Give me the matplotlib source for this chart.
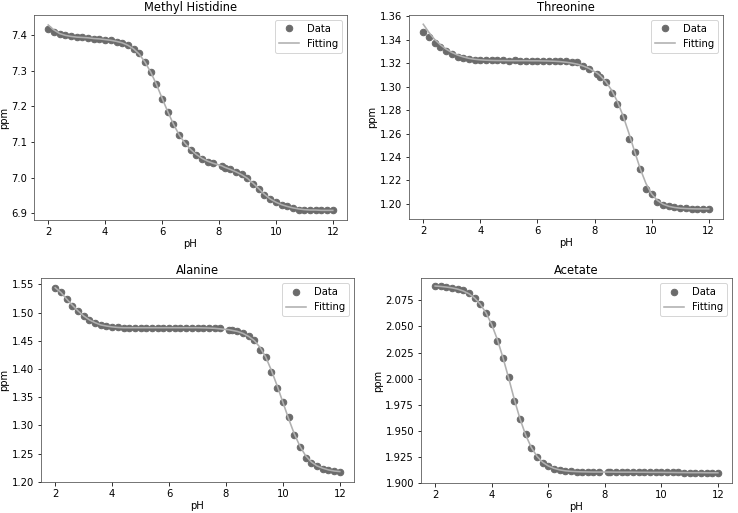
import matplotlib
matplotlib.use("Agg")
import matplotlib.pyplot as plt
from matplotlib.ticker import MultipleLocator, FormatStrFormatter

ph = [2.0, 2.2, 2.4, 2.6, 2.8, 3.0, 3.2, 3.4, 3.6, 3.8,
      4.0, 4.2, 4.4, 4.6, 4.8, 5.0, 5.2, 5.4, 5.6, 5.8,
      6.0, 6.2, 6.4, 6.6, 6.8, 7.0, 7.2, 7.4, 7.6, 7.8,
      8.1, 8.2, 8.4, 8.6, 8.8, 9.0, 9.2, 9.4, 9.6, 9.8,
      10.0, 10.2, 10.4, 10.6, 10.8, 11.0, 11.2, 11.4, 11.6, 11.8, 12.0]

methyl_histidine = [7.416, 7.409, 7.402, 7.399, 7.397, 7.394, 7.393, 7.392, 7.390, 7.389,
                    7.386, 7.385, 7.381, 7.378, 7.372, 7.362, 7.349, 7.324, 7.296, 7.262,
                    7.221, 7.185, 7.150, 7.119, 7.098, 7.077, 7.064, 7.053, 7.045, 7.040,
                    7.033, 7.028, 7.024, 7.017, 7.009, 6.998, 6.982, 6.969, 6.951, 6.940,
                    6.932, 6.923, 6.919, 6.914, 6.910, 6.910, 6.910, 6.909, 6.908, 6.908, 6.908]
methyl_histidine_fit = [7.428, 7.414, 7.404, 7.399, 7.396, 7.394, 7.393, 7.392, 7.390, 7.389,
                        7.387, 7.385, 7.382, 7.378, 7.371, 7.361, 7.346, 7.324, 7.296, 7.262,
                        7.223, 7.185, 7.150, 7.120, 7.097, 7.079, 7.065, 7.054, 7.046, 7.040,
                        7.033, 7.029, 7.023, 7.016, 7.008, 6.998, 6.984, 6.969, 6.953, 6.940,
                        6.931, 6.924, 6.919, 6.915, 6.912, 6.910, 6.909, 6.909, 6.908, 6.908, 6.908]

threonine = [1.3461, 1.3424, 1.3367, 1.3336, 1.3305, 1.3274, 1.3254, 1.3240, 1.3231, 1.3226,
             1.3223, 1.3222, 1.3222, 1.3222, 1.3222, 1.3220, 1.3222, 1.3220, 1.3220, 1.3220,
             1.3218, 1.3218, 1.3218, 1.3216, 1.3216, 1.3214, 1.3212, 1.3210, 1.3177, 1.3152,
             1.3110, 1.3085, 1.3036, 1.2947, 1.2851, 1.2738, 1.2550, 1.2445, 1.2295, 1.2124,
             1.2082, 1.2020, 1.1995, 1.1980, 1.1970, 1.1965, 1.1962, 1.1958, 1.1955, 1.1953, 1.1957]
threonine_fit = [1.3530, 1.3460, 1.3400, 1.3355, 1.3318, 1.3290, 1.3268, 1.3252, 1.3240, 1.3232,
                 1.3227, 1.3224, 1.3222, 1.3221, 1.3221, 1.3220, 1.3220, 1.3220, 1.3220, 1.3219,
                 1.3219, 1.3218, 1.3217, 1.3215, 1.3212, 1.3207, 1.3200, 1.3190, 1.3175, 1.3155,
                 1.3112, 1.3092, 1.3040, 1.2968, 1.2872, 1.2750, 1.2605, 1.2450, 1.2300, 1.2175,
                 1.2085, 1.2030, 1.1998, 1.1980, 1.1970, 1.1964, 1.1961, 1.1959, 1.1958, 1.1958, 1.1958]

alanine = [1.544, 1.5365, 1.524, 1.512, 1.502, 1.493, 1.486, 1.481, 1.478, 1.476,
           1.4745, 1.4735, 1.473, 1.473, 1.473, 1.473, 1.473, 1.473, 1.473, 1.473,
           1.473, 1.473, 1.473, 1.473, 1.473, 1.473, 1.473, 1.4725, 1.4725, 1.4725,
           1.469, 1.469, 1.467, 1.463, 1.458, 1.452, 1.433, 1.421, 1.394, 1.367,
           1.342, 1.314, 1.282, 1.262, 1.242, 1.234, 1.227, 1.222, 1.221, 1.219, 1.218]
alanine_fit = [1.544, 1.5355, 1.524, 1.513, 1.503, 1.494, 1.487, 1.482, 1.478, 1.476,
               1.4745, 1.4735, 1.473, 1.473, 1.473, 1.473, 1.473, 1.473, 1.473, 1.473,
               1.473, 1.473, 1.473, 1.473, 1.473, 1.473, 1.4728, 1.4725, 1.472, 1.471,
               1.4695, 1.4685, 1.4665, 1.463, 1.4575, 1.450, 1.438, 1.421, 1.397, 1.370,
               1.341, 1.312, 1.285, 1.263, 1.246, 1.235, 1.228, 1.224, 1.221, 1.219, 1.218]

acetate = [2.0885, 2.0885, 2.0878, 2.0872, 2.0862, 2.0846, 2.0821, 2.0776, 2.0715, 2.0632,
           2.0522, 2.0362, 2.0198, 2.0013, 1.9789, 1.9609, 1.9465, 1.9330, 1.9246, 1.9192,
           1.9157, 1.9137, 1.9122, 1.9112, 1.9110, 1.9106, 1.9103, 1.9103, 1.9103, 1.9103,
           1.9103, 1.9103, 1.9103, 1.9103, 1.9103, 1.9103, 1.9103, 1.9103, 1.9103, 1.9103,
           1.9103, 1.9103, 1.9103, 1.9100, 1.9098, 1.9096, 1.9096, 1.9096, 1.9096, 1.9096, 1.9096]
acetate_fit = [2.0888, 2.0884, 2.0878, 2.0870, 2.0858, 2.0840, 2.0813, 2.0772, 2.0712, 2.0630,
               2.0520, 2.0375, 2.0200, 2.0005, 1.9800, 1.9615, 1.9460, 1.9340, 1.9255, 1.9198,
               1.9162, 1.9139, 1.9124, 1.9115, 1.9110, 1.9107, 1.9105, 1.9104, 1.9103, 1.9103,
               1.9103, 1.9103, 1.9102, 1.9102, 1.9102, 1.9102, 1.9101, 1.9101, 1.9100, 1.9100,
               1.9100, 1.9099, 1.9099, 1.9098, 1.9098, 1.9097, 1.9097, 1.9097, 1.9096, 1.9096, 1.9096]

titles = ["Methyl Histidine", "Threonine", "Alanine", "Acetate"]
series = [methyl_histidine, threonine, alanine, acetate]
fits = [methyl_histidine_fit, threonine_fit, alanine_fit, acetate_fit]
x_ticks = [2, 4, 6, 8, 10, 12]

W, H = 738, 513
fig = plt.figure(figsize=(W / 72, H / 72), dpi=72)

# pixel boxes: left, right, top, bottom
boxes = [(34, 347, 15, 220), (409, 723, 15, 219), (41, 354, 278, 482), (421, 732, 278, 483)]
ylims = [(6.881, 7.456), (1.1872, 1.3609), (1.1995, 1.5612), (1.8998, 2.0965)]
ysteps = [0.1, 0.02, 0.05, 0.025]
yfmts = ["%.1f", "%.2f", "%.2f", "%.3f"]

for i in range(4):
    l, r, t, b = boxes[i]
    ax = fig.add_axes([l / W, 1 - b / H, (r - l) / W, (b - t) / H])
    ax.plot(ph, series[i], "o", color="#6b6b6b", markersize=6.5, label="Data", zorder=2)
    ax.plot(ph, fits[i], "-", color="#b0b0b0", linewidth=1.6, label="Fitting", zorder=3)
    ax.set_xlim(1.5, 12.5)
    ax.set_ylim(*ylims[i])
    ax.set_xticks(x_ticks)
    ax.yaxis.set_major_locator(MultipleLocator(ysteps[i]))
    ax.yaxis.set_major_formatter(FormatStrFormatter(yfmts[i]))
    ax.tick_params(labelsize=10, length=3.5, width=0.8)
    ax.set_xlabel("pH", fontsize=10, labelpad=2)
    ax.set_ylabel("ppm", fontsize=10, labelpad=2)
    ax.set_title(titles[i], fontsize=11.5, pad=4)
    for s in ax.spines.values():
        s.set_color("#555555")
    ax.legend(loc="upper right", fontsize=10, framealpha=0.8)

fig.savefig("out.png", dpi=72)
